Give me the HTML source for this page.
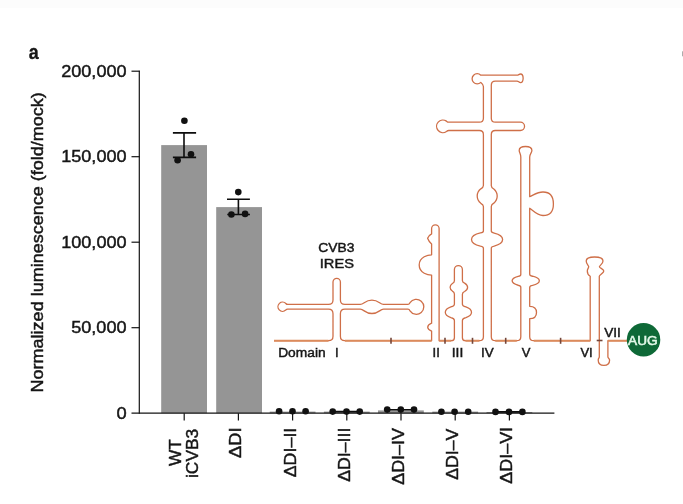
<!DOCTYPE html>
<html><head><meta charset="utf-8"><title>Figure a</title>
<style>
html,body{margin:0;padding:0;background:#fff;}
body{width:683px;height:504px;overflow:hidden;position:relative;}
svg{position:absolute;left:0;top:0;display:block;}
text{font-family:"Liberation Sans",Arial,Helvetica,sans-serif;fill:#161616;stroke:#161616;stroke-width:0.45px;}
</style></head>
<body>
<svg width="683" height="504" viewBox="0 0 683 504">
<rect x="0" y="0" width="683" height="8" fill="#fcfcfc"/>
<rect x="682.2" y="51.3" width="0.8" height="5" fill="#999"/>
<!-- panel letter -->
<text x="28.7" y="58.8" font-size="19.5" font-weight="bold" textLength="10" lengthAdjust="spacingAndGlyphs" style="stroke-width:0.3px">a</text>

<!-- bars -->
<g fill="#959595">
<rect x="161.2" y="145.1" width="45.8" height="268.1"/>
<rect x="216.2" y="207.1" width="45.8" height="206.1"/>
<rect x="269.7" y="411.6" width="45.8" height="1.6"/>
<rect x="323.9" y="411.6" width="45.8" height="1.6"/>
<rect x="378" y="410.4" width="45.8" height="2.8"/>
<rect x="432.3" y="411.6" width="45.8" height="1.6"/>
<rect x="486.5" y="412" width="45.8" height="1.2"/>
</g>

<!-- y axis -->
<g stroke="#141414" stroke-width="1.2" fill="none">
<line x1="139.3" y1="70.7" x2="139.3" y2="413.8"/>
<line x1="131.5" y1="71.2" x2="139.8" y2="71.2"/>
<line x1="131.5" y1="156.7" x2="139.8" y2="156.7"/>
<line x1="131.5" y1="242.2" x2="139.8" y2="242.2"/>
<line x1="131.5" y1="327.7" x2="139.8" y2="327.7"/>
<line x1="131.5" y1="413.2" x2="554.4" y2="413.2"/>
<!-- x ticks -->
<line x1="184.2" y1="413.2" x2="184.2" y2="420.6"/>
<line x1="238.4" y1="413.2" x2="238.4" y2="420.6"/>
<line x1="292.6" y1="413.2" x2="292.6" y2="420.6"/>
<line x1="346.8" y1="413.2" x2="346.8" y2="420.6"/>
<line x1="401" y1="413.2" x2="401" y2="420.6"/>
<line x1="455.2" y1="413.2" x2="455.2" y2="420.6"/>
<line x1="509.4" y1="413.2" x2="509.4" y2="420.6"/>
</g>
<!-- error bars -->
<g stroke="#0d0d0d" stroke-width="1.6" fill="none">
<path d="M172.9 132.9H196.1M184 132.9V157.4M172.9 157.4H196.1"/>
<path d="M227 199.3H249.9M238.4 199.3V214.5M227.3 214.5H249.9"/>
<path d="M333 411.6H360M387 409.7H414M495.5 411.9H522.4"/>
</g>
<!-- dots -->
<g fill="#111">
<circle cx="184.4" cy="120.7" r="3.3"/><circle cx="191" cy="154.3" r="3.3"/><circle cx="177.6" cy="160.2" r="3.3"/>
<circle cx="238.3" cy="192.1" r="3.3"/><circle cx="231.4" cy="214.5" r="3.3"/><circle cx="245.1" cy="213.9" r="3.3"/>
<circle cx="279.1" cy="411.2" r="3.3"/><circle cx="292.5" cy="411.2" r="3.3"/><circle cx="305.6" cy="411.2" r="3.3"/>
<circle cx="332.7" cy="411.6" r="3.3"/><circle cx="346.5" cy="411.6" r="3.3"/><circle cx="359.7" cy="411.6" r="3.3"/>
<circle cx="387.2" cy="409.6" r="3.3"/><circle cx="400.8" cy="409.6" r="3.3"/><circle cx="414" cy="409.6" r="3.3"/>
<circle cx="441.4" cy="411.8" r="3.3"/><circle cx="454.6" cy="411.8" r="3.3"/><circle cx="468.2" cy="411.8" r="3.3"/>
<circle cx="495.5" cy="411.9" r="3.3"/><circle cx="509" cy="411.9" r="3.3"/><circle cx="522.4" cy="411.9" r="3.3"/>
</g>

<g font-size="17" text-anchor="end">
<text x="126.6" y="76.7" textLength="65.4" lengthAdjust="spacingAndGlyphs">200,000</text>
<text x="126.6" y="162.2" textLength="65.4" lengthAdjust="spacingAndGlyphs">150,000</text>
<text x="126.6" y="247.7" textLength="65.4" lengthAdjust="spacingAndGlyphs">100,000</text>
<text x="126.6" y="333.2" textLength="55.4" lengthAdjust="spacingAndGlyphs">50,000</text>
<text x="126.6" y="418.7" textLength="10.2" lengthAdjust="spacingAndGlyphs">0</text>
</g>
<text x="42.6" y="392.4" font-size="17" transform="rotate(-90 42.6 392.4)" textLength="300.2" lengthAdjust="spacingAndGlyphs">Normalized luminescence (fold/mock)</text>

<!-- x labels (rotated) -->
<g font-size="16.5" style="stroke-width:0.55px">
<text transform="translate(180.8 466.1) rotate(-90)" textLength="26.8" lengthAdjust="spacingAndGlyphs">WT</text>
<text transform="translate(197.7 478) rotate(-90)" textLength="49.2" lengthAdjust="spacingAndGlyphs">iCVB3</text>
<text transform="translate(241.3 457.9) rotate(-90)" textLength="30.5" lengthAdjust="spacingAndGlyphs">ΔDI</text>
<text transform="translate(295.6 477.3) rotate(-90)" textLength="49.6" lengthAdjust="spacingAndGlyphs">ΔDI–II</text>
<text transform="translate(350.4 481.8) rotate(-90)" textLength="54.1" lengthAdjust="spacingAndGlyphs">ΔDI–III</text>
<text transform="translate(404.2 484.8) rotate(-90)" textLength="56.8" lengthAdjust="spacingAndGlyphs">ΔDI–IV</text>
<text transform="translate(458 479.7) rotate(-90)" textLength="51.1" lengthAdjust="spacingAndGlyphs">ΔDI–V</text>
<text transform="translate(512.2 483.7) rotate(-90)" textLength="56.8" lengthAdjust="spacingAndGlyphs">ΔDI–VI</text>
</g>

<!-- RNA diagram -->
<path id="rna" fill="none" stroke="#CF6F48" stroke-width="1.3" stroke-linejoin="round" d="M274 340.7 H328.5 Q333 340.7 333 336.2
V313.7 Q333 309.2 328.5 309.2
H287.66 Q286.46 309.2 285.72 310.08 A4.6 4.6 0 1 1 285.89 303.49 Q286.58 304.4 287.78 304.4
H328.5 Q333 304.4 333 299.9
V282 A3.7 3.7 0 0 1 340.4 282
V299.9 Q340.4 304.4 344.9 304.4
H360.3 C364 304.4 365 300.2 371.9 300.2 C378.8 300.2 379.8 304.4 383.5 304.4
H407.99 Q409.19 304.4 410.01 302.72 A7.5 7.5 0 1 1 410.01 310.88 Q409.19 309.2 407.99 309.2
H383.5 C379.8 309.2 378.8 313.5 371.9 313.5 C365 313.5 364 309.2 360.3 309.2
H344.9 Q340.4 309.2 340.4 313.7
V336.2 Q340.4 340.7 344.9 340.7
H431.6
V331.2 C430 330.5 427.8 329.5 427.7 327.2 C427.8 325 430 323.8 431.6 323.2
V275.1 C428.5 275.1 419.2 273.5 419.2 265 C419.2 256.5 428.5 254.8 431.6 254.8
V244 Q428.6 241.2 427.6 238.3 Q428.6 235.5 431.6 233.9
V228.6 A3.75 3.75 0 0 1 439.1 228.6
V340.7
H451.4 Q454.4 340.7 454.4 337.7
V320.38 Q454.4 318.58 450.89 317.71 A13.1 6.6 0 0 1 450.89 306.89 Q454.4 306.02 454.4 304.22
V293.92 Q454.4 292.12 452.37 291.06 A8.75 5.6 0 0 1 452.37 283.54 Q454.4 282.48 454.4 280.68
V269.6 A4 4 0 0 1 462.4 269.6
V280.38 Q462.4 282.18 464.6 283.08 A8.75 5.6 0 0 1 464.6 291.52 Q462.4 292.42 462.4 294.22
V304.22 Q462.4 306.02 465.91 306.89 A13.1 6.6 0 0 1 465.91 317.71 Q462.4 318.58 462.4 320.38
V337.7 Q462.4 340.7 465.4 340.7
H479.4 Q483.4 340.7 483.4 336.7
V248.15 Q483.4 246.65 480.47 246.16 A15.55 7.3 0 0 1 480.47 232.94 Q483.4 232.45 483.4 230.95
V206.59 Q483.4 204.79 480.84 203.35 A10 9.4 0 0 1 480.84 188.85 Q483.4 187.41 483.4 185.61
V134.5 Q483.4 130.5 479.4 130.5
H448.84 Q447.64 130.5 446.47 131.54 A6.3 6.3 0 1 1 446.47 121.16 Q447.64 122.2 448.84 122.2
H479.4 Q483.4 122.2 483.4 118.2
V86.5 Q483.4 84.4 480.81 82.41 A5.1 5.1 0 1 1 480.81 75.2 H517
C518.5 75.2 519 74 520.5 74 C524 74 524 82.6 520.5 82.6 C519 82.6 518.5 81.1 517 81.1
H495.3 Q491.3 81.1 491.3 85.1
V118.2 Q491.3 122.2 495.3 122.2
H520.4 A4.15 4.15 0 0 1 520.4 130.5
H495.3 Q491.3 130.5 491.3 134.5
V185.73 Q491.3 187.53 493.81 189.05 A10 9.4 0 0 1 493.81 203.15 Q491.3 204.67 491.3 206.47
V231.03 Q491.3 232.53 494.19 233.06 A15.55 7.3 0 0 1 494.19 246.04 Q491.3 246.57 491.3 248.07
V336.7 Q491.3 340.7 495.3 340.7
H516.8 Q520.8 340.7 520.8 336.7
V287.29 Q520.8 285.79 518.15 285.25 A13.6 5.3 0 0 1 518.15 276.45 Q520.8 275.91 520.8 274.41
V157 C520.8 154 519.2 152.5 519.2 150.5 C519.2 147.8 522 146.5 525.5 146.5 C529 146.5 531.9 147.8 531.9 150.5 C531.9 152.5 529.7 154 529.7 157
V196.7 C533 195.5 537 192 543 192 C550 192 553.4 196 553.4 203.9 C553.4 211.5 550 215.5 543 215.5 C537 215.5 533 210.5 529.7 208.3
V274.28 Q529.7 275.78 532.44 276.24 A13.6 5.3 0 0 1 532.44 285.46 Q529.7 285.92 529.7 287.42
V306.3 C533.5 306.3 536.5 307.5 536.5 312.5 C536.5 317.5 533.5 318.7 529.7 318.7
V336.7 Q529.7 340.7 533.7 340.7
H590.2
V276.2 C588 275 587.3 273 587.3 271 C587.3 269 588.7 268 588.7 266.7 C588.7 265.5 586.2 264 586.2 261
C586.2 258 589 257 594.6 257 C600.5 257 603 258 603 261 C603 264 599.4 265.5 599.4 266.7
C599.4 268 603.8 269 603.8 271 C603.8 273 599.3 275 599.3 276.2
V357 C599.3 358 598.2 358.5 598.2 360 C598.2 364 601 365.4 603.9 365.4 C606.5 365.4 609.6 364 609.6 360 C609.6 358.5 607.9 358 607.9 357
V340.7 H627"/>
<!-- thicker baseline -->
<path fill="none" stroke="#DC8B5C" stroke-width="1.9" d="M274 340.7 H328.5 M344.9 340.7 H431.6 M439.1 340.7 H451.3 M465.4 340.7 H479.4 M495.3 340.7 H516.8 M533.8 340.7 H590.2 M607.9 340.7 H627"/>
<!-- ticks -->
<g stroke="#74463A" stroke-width="1.6">
<line x1="391" y1="337.8" x2="391" y2="343.8"/>
<line x1="445" y1="337.8" x2="445" y2="343.8"/>
<line x1="472.5" y1="337.8" x2="472.5" y2="343.8"/>
<line x1="505.7" y1="337.8" x2="505.7" y2="343.8"/>
<line x1="560.6" y1="337.8" x2="560.6" y2="343.8"/>
<line x1="596.7" y1="340.5" x2="602.5" y2="340.5"/>
</g>
<circle cx="643.55" cy="339.75" r="16.75" fill="#0E6937"/>
<text x="642.8" y="344.7" font-size="13.6" text-anchor="middle" style="fill:#e2f9e8;stroke:#e2f9e8;stroke-width:0.6px">AUG</text>

<g font-size="13" style="stroke-width:0.2px">
<text x="318.2" y="251.7" textLength="36.2" lengthAdjust="spacingAndGlyphs">CVB3</text>
<text x="319.8" y="267.5" textLength="34.1" lengthAdjust="spacingAndGlyphs">IRES</text>
<text x="278.2" y="356.7" textLength="47.4" lengthAdjust="spacingAndGlyphs">Domain</text>
<text x="335" y="356.7">I</text>
<text x="432.6" y="356.7">II</text>
<text x="451.7" y="356.7" textLength="11.6" lengthAdjust="spacingAndGlyphs">III</text>
<text x="481" y="356.7" textLength="12.7" lengthAdjust="spacingAndGlyphs">IV</text>
<text x="521.8" y="356.7">V</text>
<text x="580.4" y="356.5">VI</text>
<text x="604.2" y="336.5" textLength="16.7" lengthAdjust="spacingAndGlyphs">VII</text>
</g>
</svg>
</body></html>
